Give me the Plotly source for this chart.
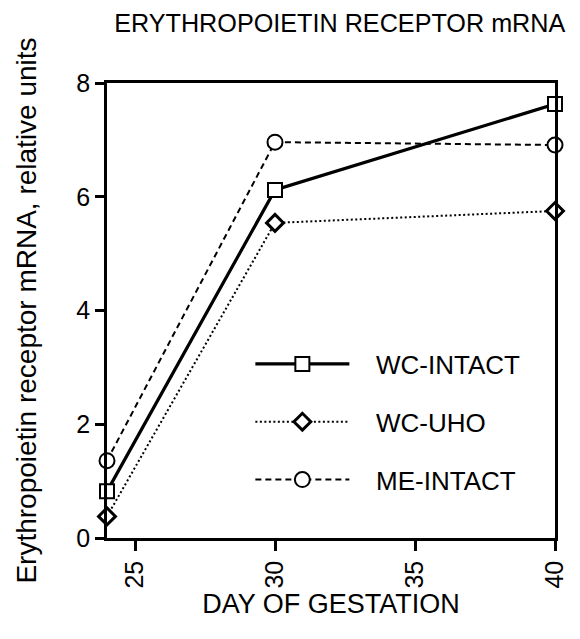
import plotly.graph_objects as go

days = [24, 30, 40]
wc_intact = [0.82, 6.12, 7.63]
wc_uho = [0.38, 5.54, 5.75]
me_intact = [1.36, 6.96, 6.91]

x_ticks = [25, 30, 35, 40]
y_ticks = [0, 2, 4, 6, 8]

FONT = "Liberation Sans, Arial, Helvetica, sans-serif"
PAD = "\u00a0\u00a0\u00a0"

fig = go.Figure()
fig.add_trace(go.Scatter(
    x=days, y=wc_intact, name=PAD + "WC-INTACT", mode="lines+markers",
    line=dict(color="black", width=3.2, dash="solid"),
    marker=dict(symbol="square", size=14, color="white", line=dict(color="black", width=2)),
    cliponaxis=False, legendgroup="a"))
fig.add_trace(go.Scatter(
    x=days, y=wc_uho, name=PAD + "WC-UHO", mode="lines+markers",
    line=dict(color="black", width=2, dash="2px,2.5px"),
    marker=dict(symbol="diamond", size=13, color="white", line=dict(color="black", width=3)),
    cliponaxis=False, legendgroup="b"))
fig.add_trace(go.Scatter(
    x=days, y=me_intact, name=PAD + "ME-INTACT", mode="lines+markers",
    line=dict(color="black", width=2, dash="6px,4px"),
    marker=dict(symbol="circle", size=15, color="white", line=dict(color="black", width=2)),
    cliponaxis=False, legendgroup="c"))

fig.update_layout(
    width=572, height=631,
    margin=dict(l=99, r=22, t=75, b=101),
    paper_bgcolor="white", plot_bgcolor="white",
    font=dict(family=FONT, color="black", size=26),
    title=dict(text="ERYTHROPOIETIN RECEPTOR mRNA", x=0.58, xanchor="center",
               y=0.976, yanchor="middle", font=dict(size=25.2)),
    showlegend=True,
    legend=dict(x=0.32, y=0.434, xanchor="left", yanchor="top",
                bgcolor="rgba(0,0,0,0)", font=dict(size=26),
                traceorder="grouped", tracegroupgap=21, itemwidth=94),
)
fig.update_xaxes(
    range=[24, 40], tickvals=x_ticks, ticktext=[str(v) for v in x_ticks],
    tickangle=-90, ticks="outside", ticklen=10, tickwidth=2.5, tickcolor="black",
    showline=True, linewidth=2.5, linecolor="black", mirror=True,
    showgrid=False, zeroline=False, tickfont=dict(size=25),
    title=dict(text="DAY OF GESTATION", font=dict(size=27), standoff=2),
)
fig.update_yaxes(
    range=[0, 8], tickvals=y_ticks, ticks="outside", ticklen=9, tickwidth=2.5,
    tickcolor="black", showline=True, linewidth=2.5, linecolor="black", mirror=True,
    showgrid=False, zeroline=False, tickfont=dict(size=25),
    title=dict(text="Erythropoietin receptor mRNA, relative units", font=dict(size=28), standoff=32),
)

fig.write_html("out.html")
